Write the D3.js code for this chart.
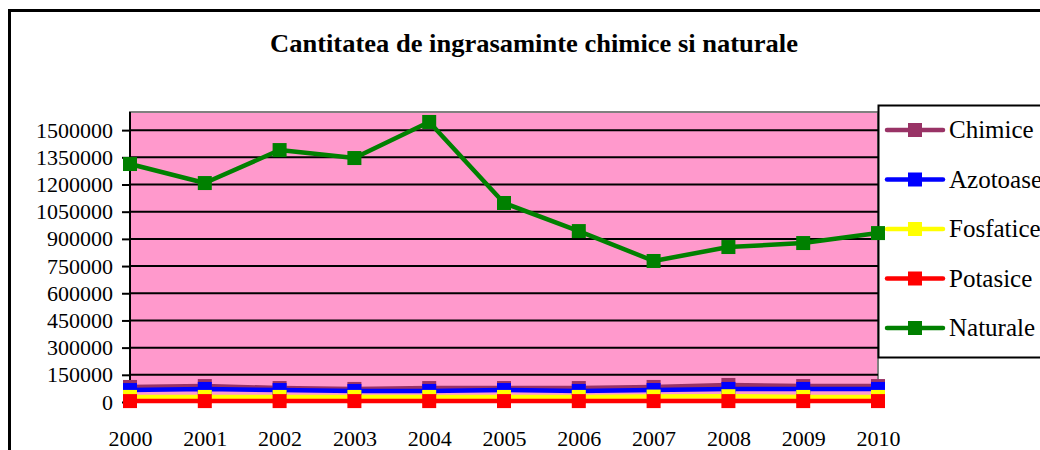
<!DOCTYPE html>
<html lang="en">
<head>
  <meta charset="UTF-8" />
  <title>ingrasaminte</title>
  <script src="https://cdn.jsdelivr.net/npm/d3@7"></script>
  <style>
    body { margin: 0; background: #fff; }
    svg text { font-family: "Liberation Serif", "Times New Roman", "DejaVu Serif", serif !important; }
  </style>
</head>
<body>
<script>

const WIDTH = 1040;
const HEIGHT = 450;

// data
const years = ["2000", "2001", "2002", "2003", "2004", "2005", "2006", "2007", "2008", "2009", "2010"];
const chimice   = [83000, 88000, 77000, 72000, 77000, 77000, 77000, 83000, 94000, 88000, 88000];
const azotoase  = [66000, 72000, 66000, 61000, 61000, 66000, 61000, 66000, 72000, 72000, 72000];
const fosfatice = [28000, 28000, 28000, 28000, 28000, 28000, 28000, 30000, 32000, 28000, 28000];
const potasice  = [5000, 5000, 5000, 5000, 5000, 5000, 5000, 5000, 5000, 5000, 5000];
const naturale  = [1313000, 1208000, 1390000, 1346000, 1545000, 1098000, 943000, 778000, 855000, 877000, 932000];
const yTicks = d3.range(0, 1500001, 150000);

const series = [
  {name: "Chimice", values: chimice, color: "#993366"},
  {name: "Azotoase", values: azotoase, color: "#0000FF"},
  {name: "Fosfatice", values: fosfatice, color: "#FFFF00"},
  {name: "Potasice", values: potasice, color: "#FF0000"},
  {name: "Naturale", values: naturale, color: "#008000"}
];

const SERIF = '"Liberation Serif", "Times New Roman", serif';

const svg = d3.select("body").append("svg")
    .attr("width", WIDTH)
    .attr("height", HEIGHT);

// chart border (runs off the picture)
svg.append("rect")
    .attr("x", 9.5).attr("y", 10.5)
    .attr("width", 1100).attr("height", 500)
    .attr("fill", "none").attr("stroke", "#000").attr("stroke-width", 3);

svg.append("text")
    .attr("x", 534).attr("y", 52)
    .attr("text-anchor", "middle")
    .style("font-family", SERIF)
    .attr("font-size", "26px")
    .attr("font-weight", "bold")
    .attr("textLength", 528)
    .attr("lengthAdjust", "spacingAndGlyphs")
    .text("Cantitatea de ingrasaminte chimice si naturale");

const x = d3.scalePoint().domain(years).range([130, 878]);
const y = d3.scaleLinear().domain([0, 1600000]).range([402, 112]);

// plot area
svg.append("rect")
    .attr("x", 130).attr("y", y(1600000))
    .attr("width", 748).attr("height", y(0) - y(1600000))
    .attr("fill", "#FF99CC")
    .attr("stroke", "#808080").attr("stroke-width", 2);

// grid + y axis
svg.append("g")
    .attr("transform", "translate(130,0)")
    .call(d3.axisLeft(y).tickValues(yTicks).tickSize(8).tickPadding(9).tickFormat(d3.format("d")))
    .call(g => g.select(".domain").attr("stroke-width", 2).attr("d", `M0,${y(1600000)}V${y(0)}`))
    .call(g => g.selectAll(".tick line").attr("stroke-width", 2))
    .call(g => g.selectAll(".tick text").attr("font-size", "22px").attr("fill", "#000")
        .style("font-family", SERIF));

svg.append("g")
    .selectAll("line")
    .data(yTicks)
    .join("line")
        .attr("x1", 130).attr("x2", 878)
        .attr("y1", d => y(d)).attr("y2", d => y(d))
        .attr("stroke", "#000").attr("stroke-width", 2);

// x axis
svg.append("g")
    .attr("transform", `translate(0,${y(0)})`)
    .call(d3.axisBottom(x).tickSize(6).tickPadding(22))
    .call(g => g.select(".domain").attr("stroke-width", 2).attr("d", "M130,0H878"))
    .call(g => g.selectAll(".tick line").attr("stroke-width", 1.5))
    .call(g => g.selectAll(".tick text").attr("font-size", "22px").attr("fill", "#000")
        .style("font-family", SERIF));

// legend (box runs past the right edge, as in the original)
const legend = svg.append("g");
legend.append("rect")
    .attr("x", 878.5).attr("y", 105.5)
    .attr("width", 200).attr("height", 252)
    .attr("fill", "#fff").attr("stroke", "#000").attr("stroke-width", 2);
series.forEach((s, i) => {
  const ly = 130 + i * 49.5;
  legend.append("line")
      .attr("x1", 887).attr("x2", 943).attr("y1", ly).attr("y2", ly)
      .attr("stroke", s.color).attr("stroke-width", 4.5).attr("stroke-linecap", "round");
  legend.append("rect")
      .attr("x", 915 - 7).attr("y", ly - 7).attr("width", 14).attr("height", 14)
      .attr("fill", s.color);
  legend.append("text")
      .attr("x", 949).attr("y", ly + 8)
      .style("font-family", SERIF)
      .attr("font-size", "25px")
      .text(s.name);
});

// lines + markers
const line = d3.line()
    .x((d, i) => x(years[i]))
    .y(d => y(d));

series.forEach(s => {
  const g = svg.append("g");
  g.append("path")
      .attr("d", line(s.values))
      .attr("fill", "none")
      .attr("stroke", s.color)
      .attr("stroke-width", 4.5)
      .attr("stroke-linejoin", "round");
  g.selectAll("rect")
      .data(s.values)
      .join("rect")
          .attr("x", (d, i) => x(years[i]) - 7)
          .attr("y", d => y(d) - 7)
          .attr("width", 14).attr("height", 14)
          .attr("fill", s.color);
});

</script>
</body>
</html>
